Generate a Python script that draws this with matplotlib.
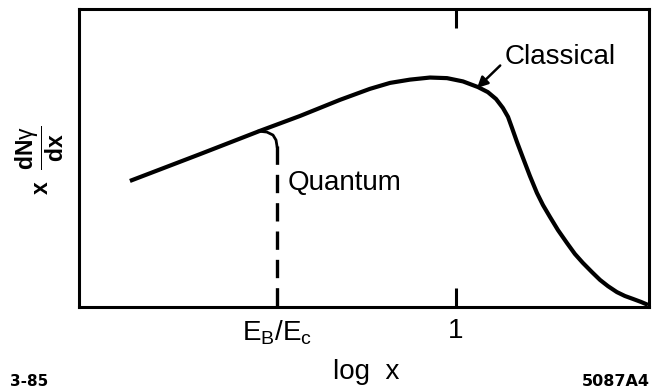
import matplotlib
matplotlib.use("Agg")
import matplotlib.pyplot as plt

plt.rcParams['font.family'] = ['Liberation Sans', 'DejaVu Sans']
plt.rcParams['mathtext.fontset'] = 'custom'
plt.rcParams['mathtext.rm'] = 'Liberation Sans'
plt.rcParams['mathtext.it'] = 'Liberation Sans'
plt.rcParams['mathtext.bf'] = 'Liberation Sans:bold'

# Classical spectrum (log x, relative x dN/dx)
classical_logx = [-1.716, -1.347, -1.032, -0.821, -0.611, -0.453, -0.347, -0.242,
                  -0.137, -0.047, 0.037, 0.116, 0.168, 0.211, 0.247, 0.274,
                  0.295, 0.321, 0.353, 0.389, 0.426, 0.458, 0.495, 0.537,
                  0.584, 0.626, 0.668, 0.716, 0.758, 0.800, 0.847, 0.889,
                  0.932, 0.974, 1.011]
classical_y = [0.423, 0.513, 0.591, 0.641, 0.695, 0.732, 0.752, 0.763,
               0.770, 0.768, 0.757, 0.738, 0.721, 0.698, 0.668, 0.638,
               0.601, 0.554, 0.500, 0.440, 0.383, 0.342, 0.302, 0.258,
               0.215, 0.178, 0.148, 0.117, 0.091, 0.070, 0.050, 0.037,
               0.027, 0.017, 0.007]

# Quantum branch: short hook then vertical cut-off at E_B/E_c
quantum_hook_logx = [-1.037, -0.995, -0.963, -0.947, -0.942]
quantum_hook_y = [0.590, 0.587, 0.577, 0.560, 0.540]
quantum_cut_logx = [-0.942, -0.942]
quantum_cut_y = [0.540, 0.0]

tick_pos = [-0.942, 0.0]
tick_labels = [r'$\mathregular{E_B/E_c}$', '1']

fig = plt.figure(figsize=(6.52, 3.91), dpi=100)
ax = fig.add_axes([79/652, 1 - 307/391, (649-79)/652, (307-9)/391])

ax.plot(classical_logx, classical_y, color='black', lw=3.0,
        solid_joinstyle='round', solid_capstyle='butt')
ax.plot(quantum_hook_logx, quantum_hook_y, color='black', lw=2.0)
ax.plot(quantum_cut_logx, quantum_cut_y, color='black', lw=2.4, dashes=(5.5, 3))

ax.set_xlim(-1.984, 1.016)
ax.set_ylim(0, 1)
for s in ax.spines.values():
    s.set_linewidth(2.2)

ax.set_xticks(tick_pos)
ax.set_xticklabels(tick_labels, fontsize=20)
ax.set_yticks([])
ax.tick_params(axis='x', direction='in', length=14, width=2.2, top=True, pad=8)
ax.xaxis.get_major_ticks()[0].tick1line.set_visible(False)
ax.xaxis.get_major_ticks()[0].tick2line.set_visible(False)

ax.text(-0.884, 0.416, 'Quantum', fontsize=20, ha='left', va='center')
ax.annotate('Classical', xy=(0.111, 0.735), xytext=(0.258, 0.839),
            fontsize=20, ha='left', va='center',
            arrowprops=dict(arrowstyle='-|>', color='black', lw=1.8,
                            mutation_scale=16, shrinkA=2, shrinkB=0,
                            relpos=(0.0, 0.35)))

fig.text(40/652, 1 - 160/391,
         r'$\mathbf{x}\ \ \dfrac{\mathbf{dN}\gamma}{\mathbf{dx}}$',
         fontsize=16.5, rotation=90, ha='center', va='center')
fig.text(366/652, 1 - 372/391, 'log  x', fontsize=20, ha='center', va='center')
fig.text(10/652, 1 - 381/391, '3-85', fontsize=11, fontweight='bold',
         family='DejaVu Sans', ha='left', va='center')
fig.text(650/652, 1 - 381/391, '5087A4', fontsize=11.5, fontweight='bold',
         family='DejaVu Sans', ha='right', va='center')

fig.savefig('out.png', dpi=100)
